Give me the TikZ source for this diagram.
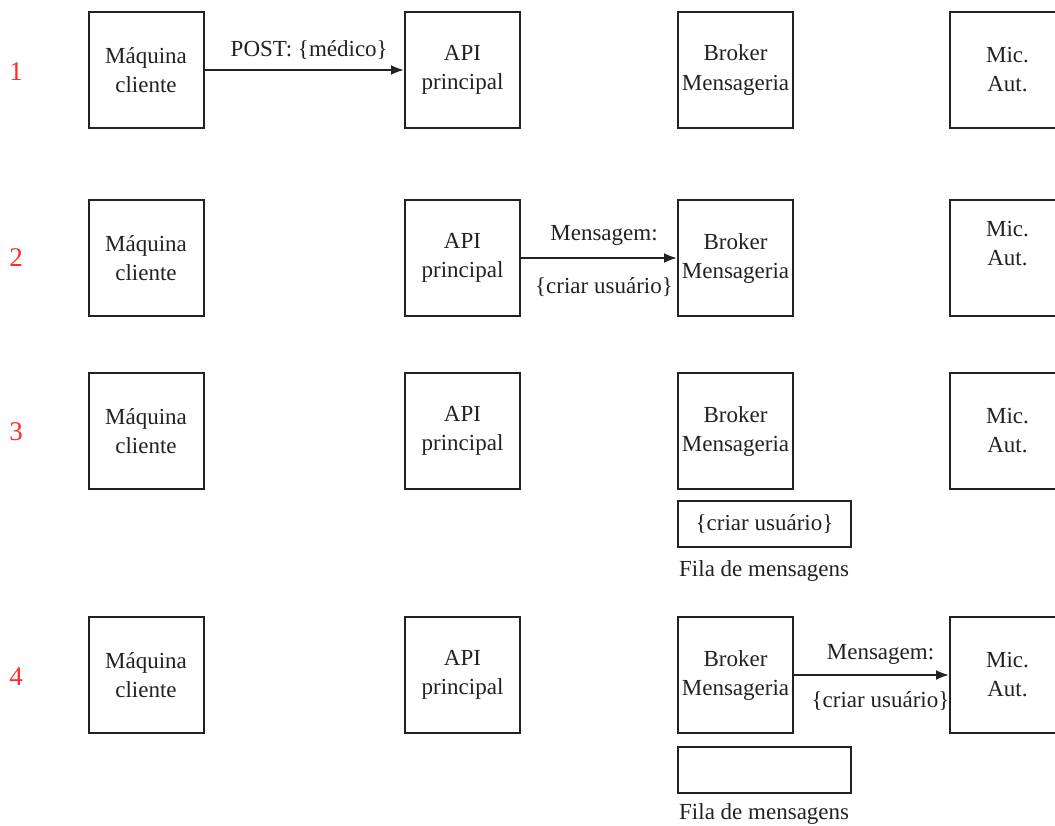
\documentclass[tikz,border=0pt]{standalone}
\usepackage{fontspec}
\setmainfont{Liberation Serif}
\usetikzlibrary{arrows.meta}
\definecolor{ink}{HTML}{222222}
\definecolor{stepred}{HTML}{FF2A2A}

\begin{document}
\begin{tikzpicture}[x=1pt,y=-1pt,
  every node/.style={font=\fontsize{23}{29}\selectfont, text=ink},
  unit/.style={draw=ink, line width=2pt, minimum width=115pt,
    minimum height=116pt, align=center, inner sep=0pt},
  queue/.style={draw=ink, line width=2pt, minimum width=173pt,
    minimum height=46pt, inner sep=0pt},
  msg/.style={draw=ink, line width=2pt, -{Latex[length=13pt,width=10pt]}},
  stepnum/.style={text=stepred, font=\fontsize{27}{27}\selectfont, inner sep=0pt},
  caption/.style={anchor=base west, inner sep=0pt},
  edgelabel/.style={anchor=base, inner sep=0pt}]

\useasboundingbox (0,0) rectangle (1055,825);
\clip (0,0) rectangle (1055,825);
\fill[white] (0,0) rectangle (1055,825);

% step numbers
\node[stepnum] (n1) at (16,72) {1};
\node[stepnum] (n2) at (16,258) {2};
\node[stepnum] (n3) at (16,432) {3};
\node[stepnum] (n4) at (16,677) {4};

% row 1: client posts to the main API
\node[unit] (a1) at (146,70)    {Máquina\\cliente};
\node[unit] (b1) at (462.5,70)  {API\\principal};
\node[unit] (c1) at (735.5,70)  {Broker\\Mensageria};
\node[unit] (d1) at (1007.5,70) {Mic.\\Aut.};
\draw[msg] (a1.east) -- (b1.west)
  node[edgelabel, midway, xshift=5pt, yshift=14pt] (l1) {POST: \{médico\}};

% row 2: main API publishes to the broker
\node[unit] (a2) at (146,258)    {Máquina\\cliente};
\node[unit] (b2) at (462.5,258)  {API\\principal};
\node[unit] (c2) at (735.5,258)  {Broker\\Mensageria};
\node[unit] (d2) at (1007.5,258) {};
\node[align=center, inner sep=0pt] (d2t) at (1007.5,244) {Mic.\\Aut.};
\draw[msg] (b2.east) -- (c2.west)
  node[edgelabel, midway, xshift=5pt, yshift=18pt] (l2a) {Mensagem:}
  node[edgelabel, midway, xshift=5pt, yshift=-35pt] (l2b) {\{criar usuário\}};

% row 3: message waits in the queue
\node[unit] (a3) at (146,431)    {Máquina\\cliente};
\node[unit] (b3) at (462.5,431)  {API\\principal};
\node[unit] (c3) at (735.5,431)  {Broker\\Mensageria};
\node[unit] (d3) at (1007.5,431) {Mic.\\Aut.};
\node[queue] (q3) at (764.5,524) {\{criar usuário\}};
\node[caption] (f3) at (679,576) {Fila de mensagens};

% row 4: broker delivers to the auth service
\node[unit] (a4) at (146,675)    {Máquina\\cliente};
\node[unit] (b4) at (462.5,675)  {API\\principal};
\node[unit] (c4) at (735.5,675)  {Broker\\Mensageria};
\node[unit] (d4) at (1007.5,675) {Mic.\\Aut.};
\draw[msg] (c4.east) -- (d4.west)
  node[edgelabel, midway, xshift=9pt, yshift=16pt] (l4a) {Mensagem:}
  node[edgelabel, midway, xshift=9pt, yshift=-32pt] (l4b) {\{criar usuário\}};
\node[queue] (q4) at (764.5,769.5) {};
\node[caption] (f4) at (679,819) {Fila de mensagens};
\end{tikzpicture}
\end{document}
